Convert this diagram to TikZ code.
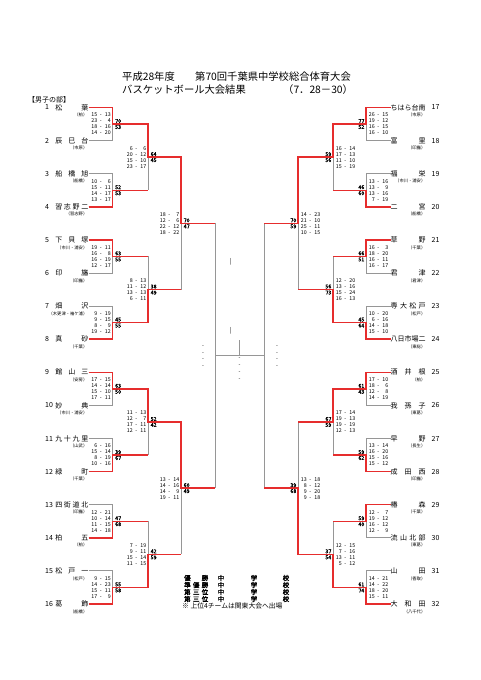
\documentclass[tikz,border=0pt]{standalone}
\usepackage{fontspec}
\setmainfont{Noto Sans CJK JP}[AutoFakeBold=2]
\usetikzlibrary{calc}
\definecolor{winred}{RGB}{230,45,45}
\definecolor{losegray}{RGB}{150,150,150}
\newcommand{\sco}[2]{\makebox[6.5pt][r]{#1}\makebox[7pt]{-}\makebox[6.5pt][r]{#2}}
\newcommand{\tsp}[1]{\makebox[35pt][s]{#1}}
\newcommand{\tspl}[1]{\makebox[33pt][s]{#1}}

\begin{document}
\begin{tikzpicture}[x=1pt,y=-1pt,
  lose/.style={draw=losegray,line width=0.9pt},
  win/.style={draw=winred,line width=1.5pt},
  ttl/.style={font=\fontsize{10.3}{11}\selectfont,inner sep=0pt,anchor=west},
  num/.style={font=\fontsize{7}{7}\selectfont,inner sep=0pt,anchor=west},
  team/.style={font=\fontsize{7}{7}\selectfont,inner sep=0pt},
  reg/.style={font=\fontsize{4.3}{4.3}\selectfont,inner sep=0pt},
  scs/.style={font=\fontsize{5.3}{6}\selectfont,inner sep=0pt,align=right},
  scl/.style={scs,anchor=east,xshift=-1.5pt},
  scr/.style={scs,anchor=west,xshift=2pt},
  tots/.style={font=\fontsize{5.3}{6}\selectfont\bfseries,inner sep=0pt},
  tol/.style={tots,anchor=west,xshift=2.5pt,align=left},
  tor/.style={tots,anchor=east,xshift=-1.5pt,align=right},
  blank/.style={font=\fontsize{5.3}{6.6}\selectfont,inner sep=0pt,align=center},
  leg/.style={font=\fontsize{6.5}{6.5}\selectfont\bfseries,inner sep=0pt}
]
\useasboundingbox (0,0) rectangle (481,680);

% title
\node[ttl] (ttl1a) at (122,77) {平成28年度};
\node[ttl] (ttl1b) at (195,77) {第70回千葉県中学校総合体育大会};
\node[ttl] (ttl2a) at (122,90) {バスケットボール大会結果};
\node[ttl] (ttl2b) at (283,90) {（7．28－30）};
\node[num] (bu) at (28,100) {【男子の部】};

% teams, left
\foreach \i/\nm/\rg in {1/{松\hfill 葉}/柏, 2/{辰\hfill 巳\hfill 台}/市原,
  3/{船\hfill 橋\hfill 旭}/船橋, 4/{習\hfill 志\hfill 野\hfill 二}/習志野,
  5/{下\hfill 貝\hfill 塚}/市川・浦安, 6/{印\hfill 旛}/印旛,
  7/{畑\hfill 沢}/木更津・袖ケ浦, 8/{真\hfill 砂}/千葉,
  9/{館\hfill 山\hfill 三}/安房, 10/{妙\hfill 典}/市川・浦安,
  11/{九\hfill 十\hfill 九\hfill 里}/山武, 12/{緑\hfill 町}/千葉,
  13/{四\hfill 街\hfill 道\hfill 北}/印旛, 14/{柏\hfill 五}/柏,
  15/{松\hfill 戸\hfill 一}/松戸, 16/{葛\hfill 飾}/船橋} {
  \node[num] (n\i) at (45,{107.5+33.1*(\i-1)}) {\i};
  \node[team,anchor=east] (t\i) at (88.5,{107.5+33.1*(\i-1)}) {\tspl{\nm}};
  \node[reg,anchor=east] (reg\i) at (87.5,{115+33.1*(\i-1)}) {（\rg）};
  \coordinate (a\i) at (112.5,{107.5+33.1*(\i-1)});
}
% teams, right
\foreach \i/\nm/\rg in {17/{ちはら台南}/市原, 18/{富\hfill 里}/印旛,
  19/{福\hfill 栄}/市川・浦安, 20/{二\hfill 宮}/船橋,
  21/{草\hfill 野}/千葉, 22/{君\hfill 津}/君津,
  23/{専\hfill 大\hfill 松\hfill 戸}/松戸, 24/{八日市場二}/東総,
  25/{酒\hfill 井\hfill 根}/柏, 26/{我\hfill 孫\hfill 子}/東葛,
  27/{早\hfill 野}/長生, 28/{成\hfill 田\hfill 西}/印旛,
  29/{椿\hfill 森}/千葉, 30/{流\hfill 山\hfill 北\hfill 部}/東葛,
  31/{山\hfill 田}/香取, 32/{大\hfill 和\hfill 田}/八千代} {
  \node[num] (n\i) at (431.5,{107.5+33.1*(\i-17)}) {\i};
  \node[team,anchor=west] (t\i) at (390.5,{107.5+33.1*(\i-17)}) {\tsp{\nm}};
  \node[reg,anchor=east] (reg\i) at (425.5,{115+33.1*(\i-17)}) {（\rg）};
  \coordinate (a\i) at (366,{107.5+33.1*(\i-17)});
}

% bracket points
\foreach \k in {1,...,8} {
  \coordinate (r1m-\k) at (112.5,{107.5+33.1*(2*\k-1.5)});
  \coordinate (r1n-\k) at (148,{107.5+33.1*(2*\k-1.5)});
}
\foreach \k in {9,...,16} {
  \coordinate (r1m-\k) at (366,{107.5+33.1*(2*\k-17.5)});
  \coordinate (r1n-\k) at (333,{107.5+33.1*(2*\k-17.5)});
}
\foreach \k in {1,...,4} {
  \coordinate (r2m-\k) at (148,{107.5+33.1*(4*\k-2.5)});
  \coordinate (r2n-\k) at (181,{107.5+33.1*(4*\k-2.5)});
}
\foreach \k in {5,...,8} {
  \coordinate (r2m-\k) at (333,{107.5+33.1*(4*\k-18.5)});
  \coordinate (r2n-\k) at (298,{107.5+33.1*(4*\k-18.5)});
}
\foreach \k in {1,2} {
  \coordinate (r3m-\k) at (181,{107.5+33.1*(8*\k-4.5)});
  \coordinate (r3n-\k) at (215,{107.5+33.1*(8*\k-4.5)});
}
\foreach \k in {3,4} {
  \coordinate (r3m-\k) at (298,{107.5+33.1*(8*\k-20.5)});
  \coordinate (r3n-\k) at (264,{107.5+33.1*(8*\k-20.5)});
}
\coordinate (smL) at (215,355.75);
\coordinate (smR) at (264,355.75);
\coordinate (fin) at (239.5,355.75);
\coordinate (fintop) at (239.5,340);

% gray lines
\foreach \i in {1,...,16} \draw[lose] (t\i.east) -- (a\i);
\foreach \i in {17,...,32} \draw[lose] (a\i) -- (t\i.west);
\foreach \i/\j in {1/2,3/4,5/6,7/8,9/10,11/12,13/14,15/16,17/18,19/20,21/22,23/24,25/26,27/28,29/30,31/32}
  \draw[lose] (a\i) -- (a\j);
\foreach \i/\j in {1/2,3/4,5/6,7/8,9/10,11/12,13/14,15/16}
  \draw[lose] (r1n-\i) -- (r1n-\j);
\foreach \i/\j in {1/2,3/4,5/6,7/8}
  \draw[lose] (r2n-\i) -- (r2n-\j);
\draw[lose] (r3n-1) -- (r3n-2);
\draw[lose] (r3n-3) -- (r3n-4);
\draw[lose] (smL) -- (smR);
\draw[lose] (fintop) -- (fin);

% winners
\draw[win] (t1.east) -| (r1m-1) -- (r1n-1) |- (r2n-1) |- (r3n-1);
\draw[win] (t4.east) -| (r1m-2) -- (r1n-2);
\draw[win] (t5.east) -| (r1m-3) -- (r1n-3);
\draw[win] (t8.east) -| (r1m-4) -- (r1n-4) |- (r2n-2);
\draw[win] (t9.east) -| (r1m-5) -- (r1n-5) |- (r2n-3) |- (r3n-2);
\draw[win] (t12.east) -| (r1m-6) -- (r1n-6);
\draw[win] (t14.east) -| (r1m-7) -- (r1n-7);
\draw[win] (t16.east) -| (r1m-8) -- (r1n-8) |- (r2n-4);
\draw[win] (t17.west) -| (r1m-9) -- (r1n-9) |- (r2n-5) |- (r3n-3);
\draw[win] (t20.west) -| (r1m-10) -- (r1n-10);
\draw[win] (t21.west) -| (r1m-11) -- (r1n-11);
\draw[win] (t24.west) -| (r1m-12) -- (r1n-12) |- (r2n-6);
\draw[win] (t25.west) -| (r1m-13) -- (r1n-13) |- (r2n-7);
\draw[win] (t28.west) -| (r1m-14) -- (r1n-14);
\draw[win] (t29.west) -| (r1m-15) -- (r1n-15);
\draw[win] (t32.west) -| (r1m-16) -- (r1n-16) |- (r2n-8) |- (r3n-4);

% scores, left
\node[scl] (sc1) at (r1m-1) {\sco{15}{13}\\\sco{23}{4}\\\sco{18}{16}\\\sco{14}{20}};
\node[tol] (tt1) at (r1m-1) {70\\53};
\node[scl] (sc2) at (r1m-2) {\sco{10}{6}\\\sco{15}{11}\\\sco{14}{17}\\\sco{13}{17}};
\node[tol] (tt2) at (r1m-2) {52\\53};
\node[scl] (sc3) at (r1m-3) {\sco{19}{11}\\\sco{16}{8}\\\sco{16}{19}\\\sco{12}{17}};
\node[tol] (tt3) at (r1m-3) {63\\55};
\node[scl] (sc4) at (r1m-4) {\sco{9}{19}\\\sco{9}{15}\\\sco{8}{9}\\\sco{19}{12}};
\node[tol] (tt4) at (r1m-4) {45\\55};
\node[scl] (sc5) at (r1m-5) {\sco{17}{15}\\\sco{14}{14}\\\sco{15}{10}\\\sco{17}{11}};
\node[tol] (tt5) at (r1m-5) {63\\50};
\node[scl] (sc6) at (r1m-6) {\sco{6}{16}\\\sco{15}{14}\\\sco{8}{19}\\\sco{10}{16}};
\node[tol] (tt6) at (r1m-6) {39\\67};
\node[scl] (sc7) at (r1m-7) {\sco{12}{21}\\\sco{10}{14}\\\sco{11}{15}\\\sco{14}{18}};
\node[tol] (tt7) at (r1m-7) {47\\68};
\node[scl] (sc8) at (r1m-8) {\sco{9}{15}\\\sco{14}{23}\\\sco{15}{11}\\\sco{17}{9}};
\node[tol] (tt8) at (r1m-8) {55\\58};
\node[scl] (sq1) at (r2m-1) {\sco{6}{6}\\\sco{20}{12}\\\sco{15}{10}\\\sco{23}{17}};
\node[tol] (tq1) at (r2m-1) {64\\45};
\node[scl] (sq2) at (r2m-2) {\sco{8}{13}\\\sco{11}{12}\\\sco{13}{13}\\\sco{6}{11}};
\node[tol] (tq2) at (r2m-2) {38\\49};
\node[scl] (sq3) at (r2m-3) {\sco{11}{13}\\\sco{12}{7}\\\sco{17}{11}\\\sco{12}{11}};
\node[tol] (tq3) at (r2m-3) {52\\42};
\node[scl] (sq4) at (r2m-4) {\sco{7}{19}\\\sco{9}{11}\\\sco{15}{14}\\\sco{11}{15}};
\node[tol] (tq4) at (r2m-4) {42\\59};
\node[scl] (ss1) at (r3m-1) {\sco{18}{7}\\\sco{12}{6}\\\sco{22}{12}\\\sco{18}{22}};
\node[tol] (ts1) at (r3m-1) {70\\47};
\node[scl] (ss2) at (r3m-2) {\sco{13}{14}\\\sco{14}{16}\\\sco{14}{9}\\\sco{19}{11}};
\node[tol] (ts2) at (r3m-2) {60\\49};

% scores, right
\node[scr] (sc9) at (r1m-9) {\sco{26}{15}\\\sco{19}{12}\\\sco{16}{15}\\\sco{16}{10}};
\node[tor] (tt9) at (r1m-9) {77\\52};
\node[scr] (sc10) at (r1m-10) {\sco{13}{16}\\\sco{13}{9}\\\sco{13}{16}\\\sco{7}{19}};
\node[tor] (tt10) at (r1m-10) {46\\60};
\node[scr] (sc11) at (r1m-11) {\sco{16}{3}\\\sco{18}{20}\\\sco{16}{11}\\\sco{16}{17}};
\node[tor] (tt11) at (r1m-11) {66\\51};
\node[scr] (sc12) at (r1m-12) {\sco{10}{20}\\\sco{6}{16}\\\sco{14}{18}\\\sco{15}{10}};
\node[tor] (tt12) at (r1m-12) {45\\64};
\node[scr] (sc13) at (r1m-13) {\sco{17}{10}\\\sco{18}{6}\\\sco{12}{8}\\\sco{14}{19}};
\node[tor] (tt13) at (r1m-13) {61\\43};
\node[scr] (sc14) at (r1m-14) {\sco{13}{14}\\\sco{16}{20}\\\sco{15}{16}\\\sco{15}{12}};
\node[tor] (tt14) at (r1m-14) {59\\62};
\node[scr] (sc15) at (r1m-15) {\sco{12}{7}\\\sco{19}{12}\\\sco{16}{12}\\\sco{12}{9}};
\node[tor] (tt15) at (r1m-15) {59\\40};
\node[scr] (sc16) at (r1m-16) {\sco{14}{21}\\\sco{14}{22}\\\sco{18}{20}\\\sco{15}{11}};
\node[tor] (tt16) at (r1m-16) {61\\74};
\node[scr] (sq5) at (r2m-5) {\sco{16}{14}\\\sco{17}{13}\\\sco{11}{10}\\\sco{15}{19}};
\node[tor] (tq5) at (r2m-5) {59\\56};
\node[scr] (sq6) at (r2m-6) {\sco{12}{20}\\\sco{13}{16}\\\sco{15}{24}\\\sco{16}{13}};
\node[tor] (tq6) at (r2m-6) {56\\73};
\node[scr] (sq7) at (r2m-7) {\sco{17}{14}\\\sco{19}{13}\\\sco{19}{19}\\\sco{12}{13}};
\node[tor] (tq7) at (r2m-7) {67\\59};
\node[scr] (sq8) at (r2m-8) {\sco{12}{15}\\\sco{7}{16}\\\sco{13}{11}\\\sco{5}{12}};
\node[tor] (tq8) at (r2m-8) {37\\54};
\node[scr] (ss3) at (r3m-3) {\sco{14}{23}\\\sco{21}{10}\\\sco{25}{11}\\\sco{10}{15}};
\node[tor] (ts3) at (r3m-3) {70\\59};
\node[scr] (ss4) at (r3m-4) {\sco{13}{18}\\\sco{8}{12}\\\sco{9}{20}\\\sco{9}{18}};
\node[tor] (ts4) at (r3m-4) {39\\68};

% semi-final and final, not yet played
\node[blank] (bl1) at (203,356.5) {-\\-\\-\\-};
\node[blank,font=\fontsize{5.3}{7}\selectfont] (bl2) at (239.5,369.5) {-\\-\\-\\-};
\node[blank] (bl3) at (277,356.5) {-\\-\\-\\-};
\node[blank,font=\fontsize{6}{6}\selectfont] (bar1) at (231,262) {|};
\node[blank,font=\fontsize{6}{6}\selectfont] (bar2) at (231,331) {|};

% legend
\foreach \y/\lab [count=\c] in {578/{優\hfill 勝},585/{準\hfill 優\hfill 勝},592/{第\hfill 三\hfill 位},599/{第\hfill 三\hfill 位}} {
  \node[leg,anchor=west] (lg\c) at (184,\y) {\makebox[24pt][s]{\lab}};
  \node[leg] (lgc\c) at (221,\y) {中};
  \node[leg] (lgs\c) at (254,\y) {学};
  \node[leg] (lgk\c) at (286,\y) {校};
}
\node[leg,anchor=west,font=\fontsize{6.8}{6.8}\selectfont] (note) at (182,606) {※ 上位4チームは関東大会へ出場};
\end{tikzpicture}
\end{document}
